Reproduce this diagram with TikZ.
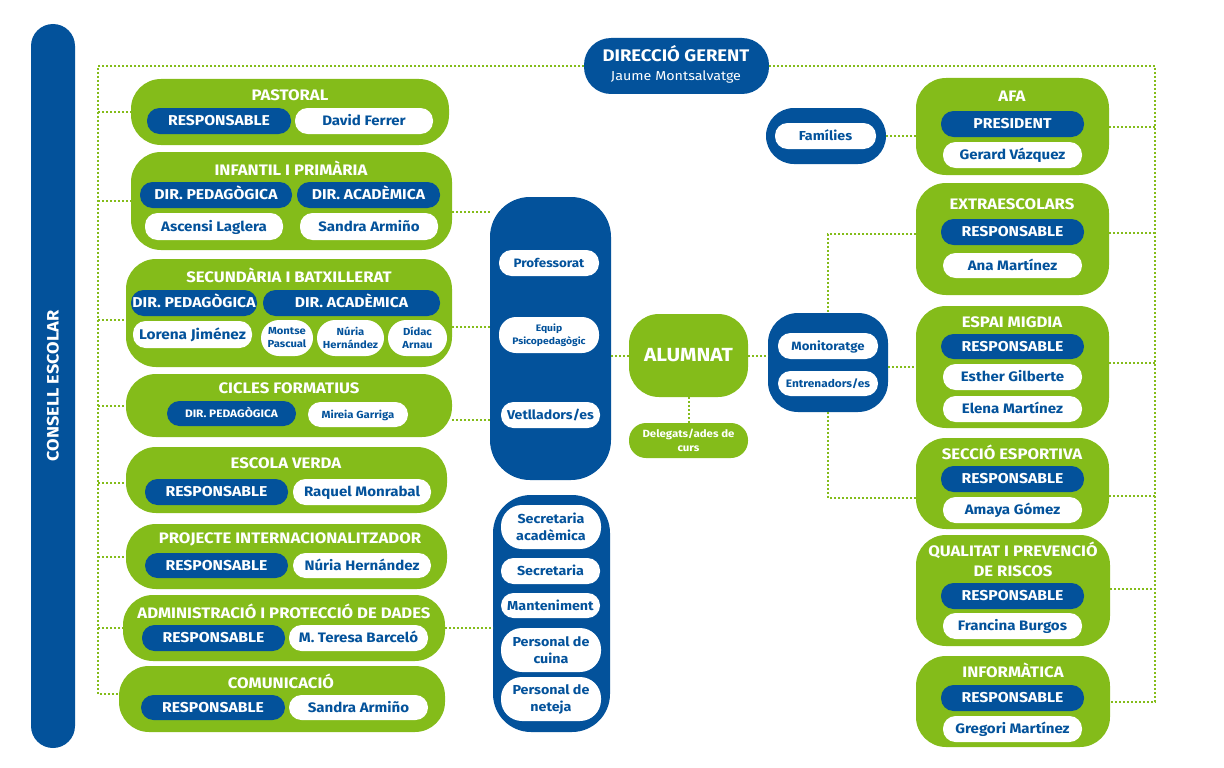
\documentclass[tikz,border=0pt]{standalone}
\usepackage{fontspec}
\setmainfont{Fira Sans}[FakeStretch=1.1]
\definecolor{cblue}{RGB}{3,82,155}
\definecolor{cgreen}{RGB}{132,188,26}
\newcommand\fsTtl{\fontsize{15.2}{17}\selectfont\bfseries}
\newcommand\fsBig{\fontsize{14.3}{16}\selectfont\bfseries}
\newcommand\fsName{\fontsize{13.7}{16}\selectfont\bfseries}
\newcommand\fsMid{\fontsize{13}{17}\selectfont\bfseries}
\newcommand\fsSm{\fontsize{10.8}{14}\selectfont\bfseries}
\newcommand\fsXs{\fontsize{10.2}{13}\selectfont\bfseries}
\newcommand\bx[7]{%
  \pgfmathsetmacro\bxw{#5-#3}\pgfmathsetmacro\bxh{#6-#4}%
  \node[#2, minimum width=\bxw pt, minimum height=\bxh pt] (#1) at ({(#3+#5)/2},{(#4+#6)/2}) {#7};}
\tikzset{
  base/.style={inner sep=0pt, outer sep=0pt, draw=none, align=center},
  one/.style={text height=9.8pt, text depth=0pt},
  gbox/.style={base, fill=cgreen, rounded corners=30pt},
  bbox/.style={base, fill=cblue, rounded corners=#1},
  bpill/.style={base, one, fill=cblue, text=white, rounded corners=12.5pt, font=\fsBig},
  wpill/.style={base, one, fill=white, text=cblue, rounded corners=12.5pt, font=\fsName},
  wpillm/.style={base, fill=white, text=cblue, rounded corners=#1},
  ttl/.style={inner sep=0pt, text=white, font=\fsTtl, anchor=base},
  dot/.style={cgreen, line width=2pt, dash pattern=on 2pt off 2pt},
}
\begin{document}
\begin{tikzpicture}[x=1pt,y=-1pt]
\useasboundingbox (0,0) rectangle (1224,768);
\coordinate (spine) at (98,0);
\coordinate (rsp) at (1155,0);
% left bar
\bx{consell}{bbox=22pt}{31}{24}{75}{748}{}
\node[rotate=90, text=white, font=\fontsize{16.5}{18}\selectfont\bfseries] (consell-t) at (consell) {CONSELL ESCOLAR};
% direccio
\bx{dg}{bbox=27pt}{584}{38}{769}{94}{}
\node[anchor=base, inner sep=0pt, text=white, font=\fontsize{16.8}{18}\selectfont\bfseries] (dg-t) at (676,62) {DIRECCIÓ GERENT};
\node[anchor=base, inner sep=0pt, text=white, font=\fontsize{13}{15}\selectfont] (dg-n) at (676,81) {Jaume Montsalvatge};
% PASTORAL
\bx{past}{gbox}{131}{79}{449}{145}{}
\node[ttl] (past-t) at (290,100) {PASTORAL};
\bx{past-r}{bpill}{147}{108}{291}{134}{RESPONSABLE}
\bx{past-n}{wpill}{295}{108}{433}{134}{David Ferrer}
% INFANTIL
\bx{inf}{gbox}{131}{152}{452}{250}{}
\node[ttl] (inf-t) at (291,175) {INFANTIL I PRIMÀRIA};
\bx{inf-p}{bpill}{140}{182}{292}{208}{DIR. PEDAGÒGICA}
\bx{inf-a}{bpill}{297}{182}{440}{208}{DIR. ACADÈMICA}
\bx{inf-pn}{wpill}{145}{213}{283}{240}{Ascensi Laglera}
\bx{inf-an}{wpill}{300}{213}{438}{240}{Sandra Armiño}
% SECUNDARIA
\bx{sec}{gbox}{126}{259}{452}{367}{}
\node[ttl] (sec-t) at (289,282) {SECUNDÀRIA I BATXILLERAT};
\bx{sec-p}{bpill}{131}{290}{257}{316}{DIR. PEDAGÒGICA}
\bx{sec-a}{bpill}{263}{290}{440}{316}{DIR. ACADÈMICA}
\bx{sec-pn}{wpill, font=\fontsize{14}{16}\selectfont\bfseries}{133}{321}{252}{348}{Lorena Jiménez}
\bx{sec-a1}{wpillm=18pt, font=\fsXs}{261}{320}{313}{356}{Montse\\Pascual}
\bx{sec-a2}{wpillm=18pt, font=\fsXs}{317}{320}{384}{356}{Núria\\Hernández}
\bx{sec-a3}{wpillm=18pt, font=\fsXs}{388}{320}{447}{356}{Dídac\\Arnau}
% CICLES
\bx{cic}{gbox}{126}{374}{452}{437}{}
\node[ttl] (cic-t) at (289,393) {CICLES FORMATIUS};
\bx{cic-p}{bpill, font=\fsSm, text height=7.6pt}{167}{401}{296}{426}{DIR. PEDAGÒGICA}
\bx{cic-n}{wpill, font=\fontsize{10.3}{12}\selectfont\bfseries, text height=7.4pt}{308}{402}{408}{427}{Mireia Garriga}
% ESCOLA VERDA
\bx{ev}{gbox}{126}{447}{447}{513}{}
\node[ttl] (ev-t) at (286,468) {ESCOLA VERDA};
\bx{ev-r}{bpill}{145}{479}{288}{505}{RESPONSABLE}
\bx{ev-n}{wpill}{293}{479}{431}{505}{Raquel Monrabal}
% PROJECTE
\bx{pi}{gbox}{126}{524}{447}{589}{}
\node[ttl] (pi-t) at (290,543) {PROJECTE INTERNACIONALITZADOR};
\bx{pi-r}{bpill}{145}{553}{288}{578}{RESPONSABLE}
\bx{pi-n}{wpill}{293}{553}{431}{578}{Núria Hernández}
% ADMINISTRACIO
\bx{adm}{gbox}{123}{595}{445}{661}{}
\node[ttl] (adm-t) at (284,618) {ADMINISTRACIÓ I PROTECCIÓ DE DADES};
\bx{adm-r}{bpill}{142}{625}{285}{651}{RESPONSABLE}
\bx{adm-n}{wpill}{289}{625}{428}{651}{M. Teresa Barceló}
% COMUNICACIO
\bx{com}{gbox}{119}{666}{445}{732}{}
\node[ttl] (com-t) at (281,688) {COMUNICACIÓ};
\bx{com-r}{bpill}{141}{695}{285}{720}{RESPONSABLE}
\bx{com-n}{wpill}{289}{695}{428}{720}{Sandra Armiño}
% column 1
\bx{col1}{bbox=40pt}{490}{197}{611}{480}{}
\bx{prof}{wpill, font=\fontsize{12.2}{14}\selectfont\bfseries, text height=8.4pt}{499}{250}{599}{276}{Professorat}
\bx{equip}{wpillm=17pt, font=\fontsize{9.4}{12.5}\selectfont\bfseries}{499}{317}{599}{353}{Equip\\Psicopedagògic}
\bx{vetl}{wpill, font=\fontsize{12.8}{14}\selectfont\bfseries, text height=8.8pt}{501}{402}{600}{428}{Vetlladors/es}
% column 2
\bx{col2}{bbox=38pt}{493}{495}{610}{732}{}
\bx{secac}{wpillm=21pt, font=\fsMid}{501}{505}{601}{549}{Secretaria\\acadèmica}
\bx{secr}{wpill, font=\fsMid, text height=9pt}{501}{558}{600}{584}{Secretaria}
\bx{mant}{wpill, font=\fsMid, text height=9pt}{501}{593}{600}{618}{Manteniment}
\bx{cuina}{wpillm=21pt, font=\fsMid}{501}{628}{601}{672}{Personal de\\cuina}
\bx{netej}{wpillm=21pt, font=\fsMid}{501}{677}{601}{721}{Personal de\\neteja}
% ALUMNAT
\bx{alum}{gbox, text=white, font=\fontsize{19}{21}\selectfont\bfseries}{629}{314}{748}{397}{ALUMNAT}
\bx{deleg}{gbox, rounded corners=17pt, text=white, font=\fontsize{10.4}{13.5}\selectfont\bfseries}{629}{423}{748}{458}{Delegats/ades de\\curs}
% Monitoratge
\bx{mon}{bbox=30pt}{768}{313}{888}{412}{}
\bx{mon-m}{wpill, font=\fontsize{12}{14}\selectfont\bfseries, text height=8.3pt}{778}{333}{878}{359}{Monitoratge}
\bx{mon-e}{wpill, font=\fsSm, text height=7.6pt}{778}{371}{878}{396}{Entrenadors/es}
% Families
\bx{fam}{bbox=28pt}{766}{108}{886}{164}{}
\bx{fam-n}{wpill, font=\fsMid, text height=9pt}{775}{123}{876}{149}{Famílies}
% AFA
\bx{afa}{gbox}{916}{78}{1109}{175}{}
\node[ttl] (afa-t) at (1012,102) {AFA};
\bx{afa-r}{bpill}{941}{111}{1084}{137}{PRESIDENT}
\bx{afa-n}{wpill}{943}{142}{1082}{168}{Gerard Vázquez}
% EXTRAESCOLARS
\bx{ext}{gbox}{916}{183}{1109}{295}{}
\node[ttl] (ext-t) at (1012,209) {EXTRAESCOLARS};
\bx{ext-r}{bpill}{941}{219}{1084}{245}{RESPONSABLE}
\bx{ext-n}{wpill}{943}{253}{1082}{278}{Ana Martínez}
% ESPAI MIGDIA
\bx{esp}{gbox}{916}{306}{1109}{428}{}
\node[ttl] (esp-t) at (1012,327) {ESPAI MIGDIA};
\bx{esp-r}{bpill}{941}{334}{1084}{359}{RESPONSABLE}
\bx{esp-n1}{wpill}{943}{364}{1082}{390}{Esther Gilberte}
\bx{esp-n2}{wpill}{943}{396}{1082}{422}{Elena Martínez}
% SECCIO ESPORTIVA
\bx{spo}{gbox}{916}{438}{1109}{529}{}
\node[ttl] (spo-t) at (1012,459) {SECCIÓ ESPORTIVA};
\bx{spo-r}{bpill}{941}{466}{1084}{492}{RESPONSABLE}
\bx{spo-n}{wpill}{943}{497}{1082}{523}{Amaya Gómez}
% QUALITAT
\bx{qua}{gbox}{916}{535}{1110}{646}{}
\node[ttl] (qua-t1) at (1013,556) {QUALITAT I PREVENCIÓ};
\node[ttl] (qua-t2) at (1013,576) {DE RISCOS};
\bx{qua-r}{bpill}{941}{583}{1084}{609}{RESPONSABLE}
\bx{qua-n}{wpill}{943}{613}{1082}{639}{Francina Burgos}
% INFORMATICA
\bx{inf2}{gbox}{916}{656}{1110}{747}{}
\node[ttl] (inf2-t) at (1013,677) {INFORMÀTICA};
\bx{inf2-r}{bpill}{941}{685}{1084}{711}{RESPONSABLE}
\bx{inf2-n}{wpill}{943}{716}{1082}{742}{Gregori Martínez}
% connectors left
\coordinate (comb) at ([yshift=5pt]com.west);
\draw[dot] (dg.west) -| (comb -| spine) -- (comb);
\draw[dot] (past.west -| spine) -- (past.west);
\draw[dot] (inf.west -| spine) -- (inf.west);
\draw[dot] ([yshift=-6.5pt]sec.west -| spine) -- ([yshift=-6.5pt]sec.west);
\draw[dot] (cic.west -| spine) -- (cic.west);
\draw[dot] ([yshift=-3pt]ev.west -| spine) -- ([yshift=-3pt]ev.west);
\draw[dot] (pi.west -| spine) -- (pi.west);
\draw[dot] (adm.west -| spine) -- (adm.west);
% connectors to columns
\draw[dot] ([yshift=-11pt]inf.east) -- ([yshift=-11pt]inf.east -| col1.west);
\draw[dot] ([yshift=-14pt]sec.east) -- ([yshift=-14pt]sec.east -| col1.west);
\draw[dot] ([yshift=-14.5pt]cic.east) -- ([yshift=-14.5pt]cic.east -| col1.west);
\draw[dot] (adm.east) -- (adm.east -| col2.west);
\draw[dot] (alum.west -| col1.east) -- (alum.west);
\draw[dot] (alum.east) -- (alum.east -| mon.west);
\draw[dot] (alum.south) -- (deleg.north);
\draw[dot] (mon.east |- esp.west) -- (esp.west);
\draw[dot] (fam.east) -- (fam.east -| afa.west);
\draw[dot] ([yshift=5pt]ext.west) -| (mon.north);
\draw[dot] (mon.south) |- ([yshift=-14.5pt]spo.west);
% connectors right
\draw[dot] (dg.east) -| (inf2.east -| rsp) -- (inf2.east);
\draw[dot] (afa.east) -- (afa.east -| rsp);
\draw[dot] ([yshift=6pt]ext.east) -- ([yshift=6pt]ext.east -| rsp);
\draw[dot] ([yshift=4pt]esp.east) -- ([yshift=4pt]esp.east -| rsp);
\draw[dot] ([yshift=-12.5pt]spo.east) -- ([yshift=-12.5pt]spo.east -| rsp);
\draw[dot] ([yshift=2pt]qua.east) -- ([yshift=2pt]qua.east -| rsp);
\end{tikzpicture}
\end{document}
